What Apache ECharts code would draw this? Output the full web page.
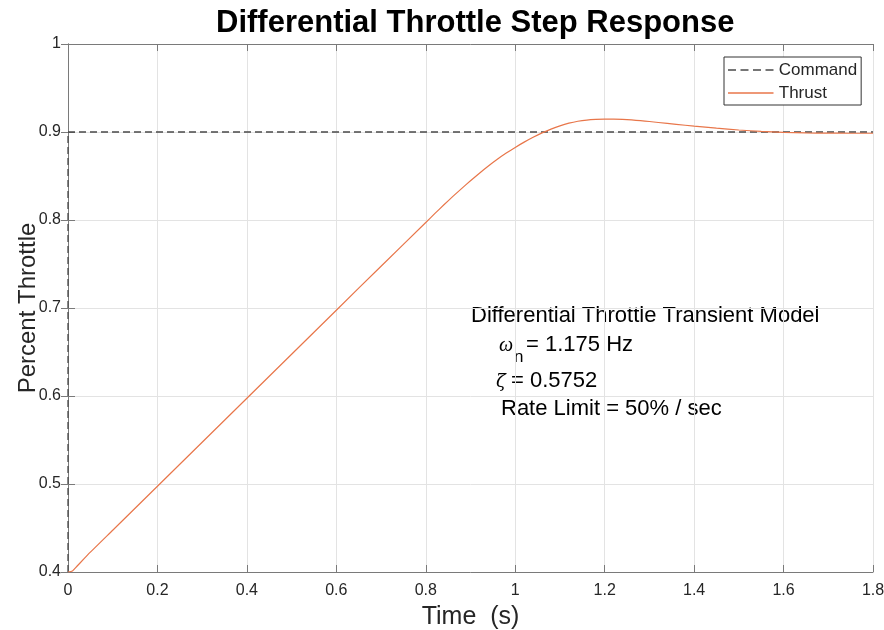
<!DOCTYPE html>
<html>
<head>
<meta charset="utf-8">
<script src="https://cdn.jsdelivr.net/npm/echarts@6/dist/echarts.min.js"></script>
<style>
  html, body { margin: 0; padding: 0; background: #fff; }
  #chart { width: 884px; height: 630px; }
</style>
</head>
<body>
<div id="chart"></div>
<script>
// Step response of the differential throttle model
const timeValues = [0, 0.01, 0.02, 0.05, 0.1, 0.2, 0.3, 0.4, 0.5, 0.6, 0.7, 0.8, 0.82, 0.84, 0.86, 0.88, 0.9, 0.92, 0.94, 0.96, 0.98, 1.0, 1.02, 1.04, 1.06, 1.08, 1.1, 1.12, 1.14, 1.16, 1.18, 1.2, 1.22, 1.24, 1.26, 1.28, 1.3, 1.32, 1.36, 1.4, 1.45, 1.5, 1.55, 1.6, 1.65, 1.7, 1.75, 1.8];
const thrustValues = [0.4, 0.4012, 0.4065, 0.4225, 0.4475, 0.4975, 0.5475, 0.5975, 0.6475, 0.6975, 0.7475, 0.7972, 0.8072, 0.8170, 0.8265, 0.8357, 0.8446, 0.8532, 0.8614, 0.8690, 0.8760, 0.8825, 0.8885, 0.8940, 0.8990, 0.9033, 0.9070, 0.9100, 0.9122, 0.9136, 0.9143, 0.9146, 0.9146, 0.9143, 0.9137, 0.9129, 0.9119, 0.9108, 0.9087, 0.9067, 0.9044, 0.9023, 0.9006, 0.8996, 0.8990, 0.8987, 0.8986, 0.8986];
const commandTime = [0, 0, 1.8];
const commandValues = [0.4, 0.9, 0.9];
const xTicks = [0, 0.2, 0.4, 0.6, 0.8, 1, 1.2, 1.4, 1.6, 1.8];
const yTicks = [0.4, 0.5, 0.6, 0.7, 0.8, 0.9, 1];

const FONT = 'Liberation Sans, Arial, Helvetica, sans-serif';
const SERIF = 'Liberation Serif, DejaVu Serif, serif';
const AXIS_COLOR = '#7a7a7a';
const TEXT_COLOR = '#262626';

// Legend samples: a dashed stroke and a solid stroke, drawn as flat filled paths
const DASH_ICON = 'path://M0,0h8v1.5h-8z M12.5,0h8v1.5h-8z M25,0h8v1.5h-8z M37.5,0h8v1.5h-8z';
const SOLID_ICON = 'path://M0,0h45.5v1.5h-45.5z';

const chart = echarts.init(document.getElementById('chart'));

const fmt = v => String(+v.toFixed(2));

chart.setOption({
  backgroundColor: '#ffffff',
  animation: false,
  title: {
    text: 'Differential Throttle Step Response',
    left: 211, top: 3,
    textStyle: { fontFamily: FONT, fontSize: 31, fontWeight: 'bold', color: '#000' }
  },
  grid: { left: 68, right: 11, top: 44, bottom: 58, outerBoundsMode: 'none' },
  legend: {
    left: 724, top: 57,
    orient: 'vertical',
    backgroundColor: '#fff',
    borderColor: '#333', borderWidth: 1,
    padding: [3, 4, 2, 4],
    itemWidth: 46, itemHeight: 1.5, itemGap: 3,
    textStyle: { fontFamily: FONT, fontSize: 17, lineHeight: 20, color: TEXT_COLOR },
    data: [{ name: 'Command', icon: DASH_ICON }, { name: 'Thrust', icon: SOLID_ICON }]
  },
  xAxis: [{
    type: 'value', min: 0, max: 1.8, interval: 0.2,
    name: 'Time  (s)', nameLocation: 'middle', nameGap: 33, nameMoveOverlap: false,
    nameTextStyle: { fontFamily: FONT, fontSize: 25, color: TEXT_COLOR },
    axisLine: { lineStyle: { color: AXIS_COLOR, width: 1 } },
    axisTick: { inside: true, length: 7, lineStyle: { color: AXIS_COLOR } },
    axisLabel: { fontFamily: FONT, fontSize: 16, color: TEXT_COLOR, margin: 11,
      formatter: v => xTicks.some(t => Math.abs(t - v) < 1e-6) ? fmt(v) : '' },
    splitLine: { show: true, lineStyle: { color: '#e3e3e3', width: 1 } }
  }, {
    type: 'value', min: 0, max: 1.8, interval: 0.2, position: 'top',
    axisLine: { lineStyle: { color: AXIS_COLOR, width: 1 } },
    axisTick: { inside: true, length: 7, lineStyle: { color: AXIS_COLOR } },
    axisLabel: { show: false }, splitLine: { show: false }
  }],
  yAxis: [{
    type: 'value', min: 0.4, max: 1, interval: 0.1,
    name: 'Percent Throttle', nameLocation: 'middle', nameGap: 28, nameMoveOverlap: false,
    nameTextStyle: { fontFamily: FONT, fontSize: 24, color: TEXT_COLOR },
    axisLine: { lineStyle: { color: AXIS_COLOR, width: 1 } },
    axisTick: { inside: true, length: 7, lineStyle: { color: AXIS_COLOR } },
    axisLabel: { fontFamily: FONT, fontSize: 16, color: TEXT_COLOR, margin: 7,
      formatter: v => yTicks.some(t => Math.abs(t - v) < 1e-6) ? fmt(v) : '' },
    splitLine: { show: true, lineStyle: { color: '#e3e3e3', width: 1 } }
  }, {
    type: 'value', min: 0.4, max: 1, interval: 0.1, position: 'right',
    axisLine: { show: true, lineStyle: { color: AXIS_COLOR, width: 1 } },
    axisTick: { show: true, inside: true, length: 7, lineStyle: { color: AXIS_COLOR } },
    axisLabel: { show: false }, splitLine: { show: false }
  }],
  series: [{
    name: 'Command', type: 'line', symbol: 'none',
    data: commandTime.map((t, i) => [t, commandValues[i]]),
    lineStyle: { color: '#4a4a4a', width: 1.3, type: [7, 4] },
    itemStyle: { color: '#4a4a4a' },
    z: 2
  }, {
    name: 'Thrust', type: 'line', symbol: 'none', smooth: 0.2,
    data: timeValues.map((t, i) => [t, thrustValues[i]]),
    lineStyle: { color: '#E8764A', width: 1.2 },
    itemStyle: { color: '#E8764A' },
    z: 3
  }],
  graphic: [
    { type: 'text', x: 471, y: 316, style: { text: 'Differential Throttle Transient Model',
      font: '22px ' + FONT, fill: '#000', textVerticalAlign: 'middle' } },
    { type: 'text', x: 499, y: 346, style: { text: 'ω',
      font: 'italic 20px ' + SERIF, fill: '#000', textVerticalAlign: 'middle' } },
    { type: 'text', x: 514, y: 357, style: { text: 'n',
      font: '17px ' + FONT, fill: '#000', textVerticalAlign: 'middle' } },
    { type: 'text', x: 526, y: 345, style: { text: '= 1.175 Hz',
      font: '22px ' + FONT, fill: '#000', textVerticalAlign: 'middle' } },
    { type: 'text', x: 496, y: 382, style: { text: 'ζ',
      font: 'italic 18px DejaVu Serif, serif', fill: '#000', textVerticalAlign: 'middle' } },
    { type: 'text', x: 511, y: 381, style: { text: '= 0.5752',
      font: '22px ' + FONT, fill: '#000', textVerticalAlign: 'middle' } },
    { type: 'text', x: 501, y: 409, style: { text: 'Rate Limit = 50% / sec',
      font: '22px ' + FONT, fill: '#000', textVerticalAlign: 'middle' } }
  ]
});
</script>
</body>
</html>
